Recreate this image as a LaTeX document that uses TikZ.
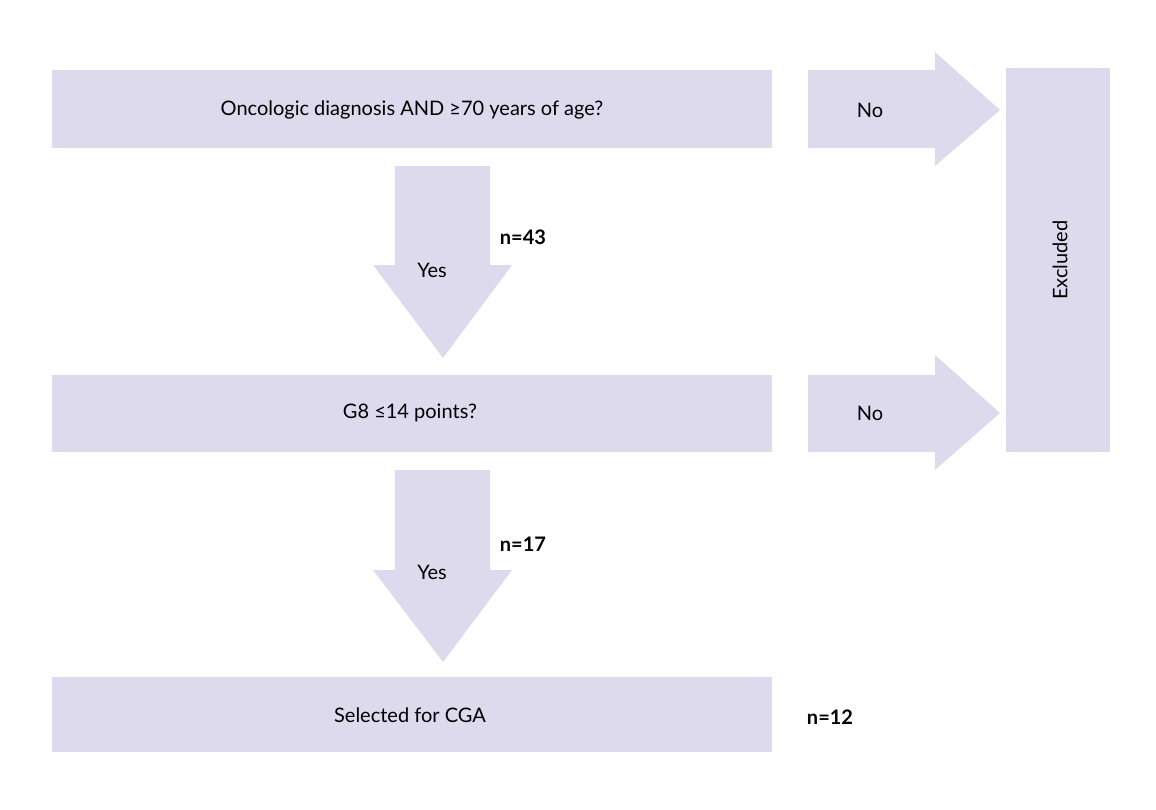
\documentclass[tikz,border=0pt]{standalone}
\usepackage{fontspec}
\setmainfont{Lato}
\begin{document}
\begin{tikzpicture}[x=1pt,y=-1pt,
  fillc/.style={fill=boxc,draw=none},
  txt/.style={font=\fontsize{20}{24}\selectfont},
  num/.style={font=\fontsize{20}{24}\selectfont\bfseries}]
\definecolor{boxc}{HTML}{DDDAEE}
\useasboundingbox (0,0) rectangle (1156,809);
% boxes
\fill[boxc] (52,70) rectangle (772,148);
\node[txt] (b1) at (412,110) {Oncologic diagnosis AND ≥70 years of age?};
\fill[boxc] (52,375) rectangle (772,452);
\node[txt] (b2) at (410,413) {G8 ≤14 points?};
\fill[boxc] (52,677) rectangle (772,752);
\node[txt] (b3) at (410,715) {Selected for CGA};
\fill[boxc] (1006,68) rectangle (1110,452);
\node[txt,rotate=90] (ex) at (1060,260) {Excluded};
% right arrows
\fill[boxc] (808,70) -- (935,70) -- (935,52) -- (1000,110) -- (935,166) -- (935,148) -- (808,148) -- cycle;
\node[txt] (no1) at (870,110) {No};
\fill[boxc] (808,375) -- (935,375) -- (935,355) -- (1000,413) -- (935,470) -- (935,452) -- (808,452) -- cycle;
\node[txt] (no2) at (870,413) {No};
% down arrows
\fill[boxc] (395,166) -- (490,166) -- (490,265) -- (512,265) -- (443,358) -- (373,265) -- (395,265) -- cycle;
\node[txt] (y1) at (432,270) {Yes};
\node[num] (n1) at (523,237) {n=43};
\fill[boxc] (395,470) -- (490,470) -- (490,570) -- (512,570) -- (443,662) -- (373,570) -- (395,570) -- cycle;
\node[txt] (y2) at (432,572) {Yes};
\node[num] (n2) at (523,544) {n=17};
\node[num] (n3) at (830,717) {n=12};
\end{tikzpicture}
\end{document}
